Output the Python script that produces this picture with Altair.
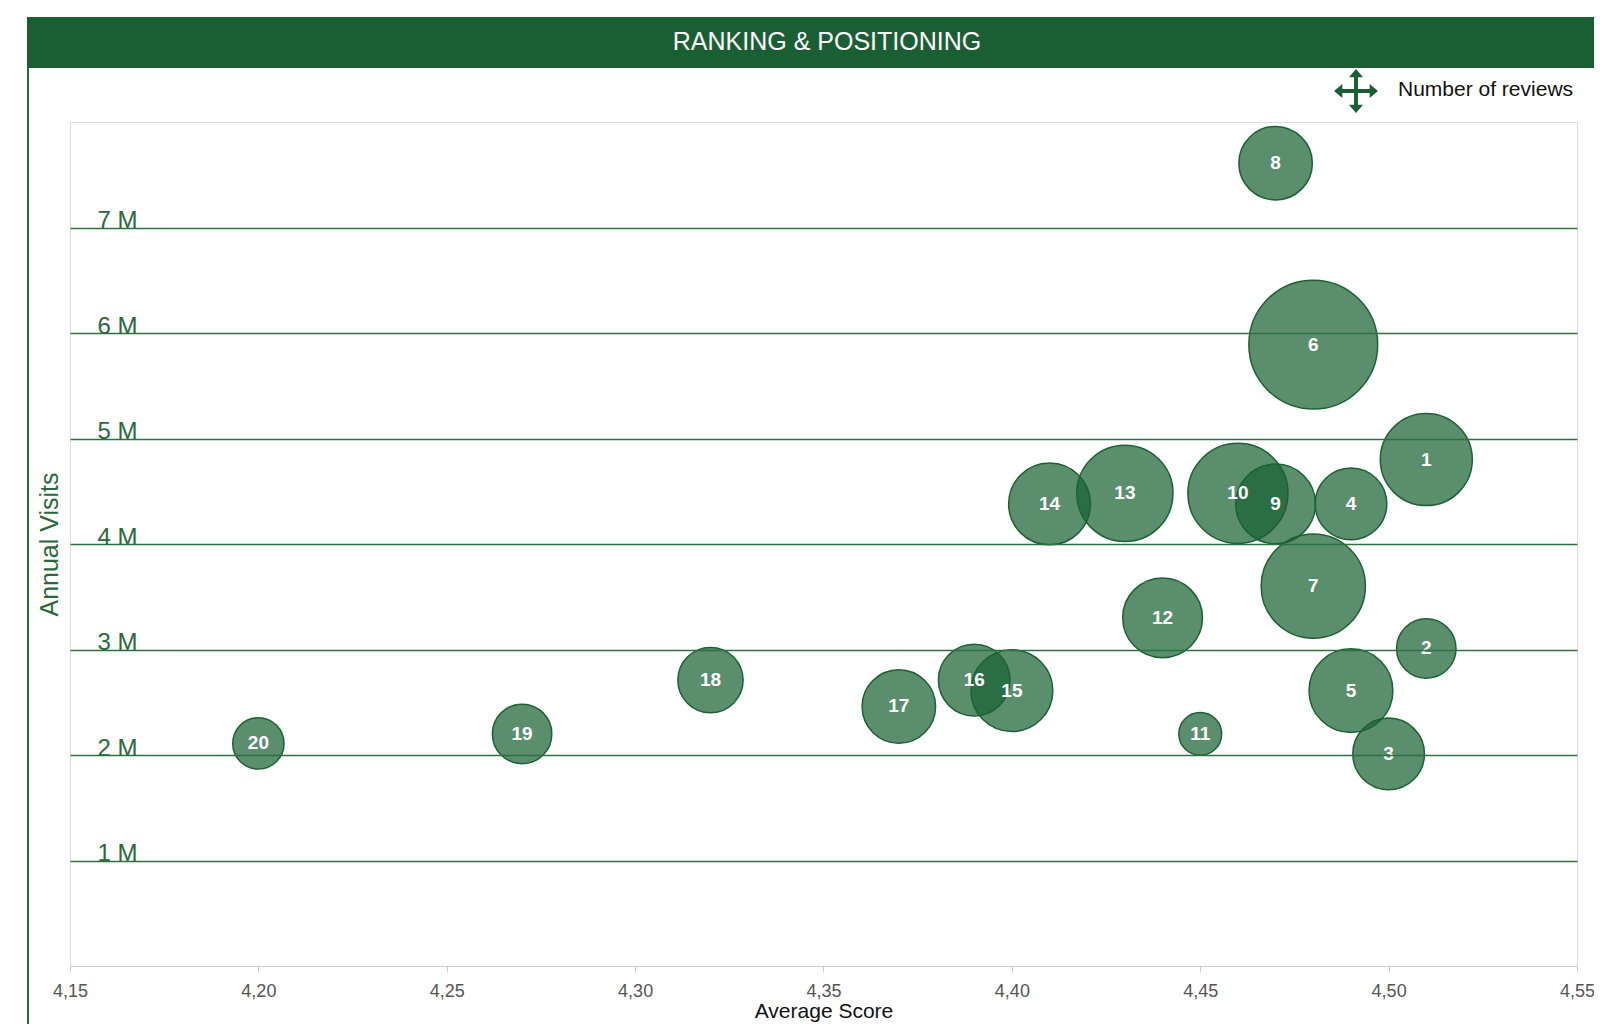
import altair as alt
import pandas as pd

# ---- data ----
ids = [1, 2, 3, 4, 5, 6, 7, 8, 9, 10, 11, 12, 13, 14, 15, 16, 17, 18, 19, 20]
scores = [4.51, 4.51, 4.50, 4.49, 4.49, 4.48, 4.48, 4.47, 4.47, 4.46,
          4.45, 4.44, 4.43, 4.41, 4.40, 4.39, 4.37, 4.32, 4.27, 4.20]
visits = [4.80e6, 3.01e6, 2.01e6, 4.38e6, 2.61e6, 5.89e6, 3.60e6, 7.61e6, 4.38e6, 4.48e6,
          2.20e6, 3.30e6, 4.48e6, 4.38e6, 2.61e6, 2.71e6, 2.46e6, 2.71e6, 2.20e6, 2.11e6]
reviews = [25400, 10600, 15400, 15400, 21100, 49800, 32600, 16200, 19100, 30100,
           5500, 19100, 27800, 20100, 20100, 15400, 16200, 12800, 10600, 7900]
y_ticks = [1e6, 2e6, 3e6, 4e6, 5e6, 6e6, 7e6]
x_ticks = [4.15, 4.20, 4.25, 4.30, 4.35, 4.40, 4.45, 4.50, 4.55]
title_text = "RANKING & POSITIONING"
legend_text = "Number of reviews"

df = pd.DataFrame({"id": ids, "score": scores, "visits": visits, "reviews": reviews})
one = pd.DataFrame({"k": [0]})

GREEN = "#1a5f33"
FONT = "Liberation Sans"

x_enc = alt.X("score:Q",
              scale=alt.Scale(domain=[4.15, 4.55], nice=False, zero=False),
              axis=alt.Axis(values=x_ticks, title="Average Score",
                            labelExpr="replace(format(datum.value, '.2f'), '.', ',')",
                            grid=False, domainColor="#cccccc", tickColor="#cccccc",
                            tickSize=6, labelPadding=10, labelFontSize=18,
                            labelFlush=False,
                            labelColor="#555555", labelFont=FONT,
                            titleFont=FONT, titleFontSize=21, titleFontWeight="normal",
                            titleColor="#111111", titlePadding=0))
y_enc = alt.Y("visits:Q",
              scale=alt.Scale(domain=[0, 8e6], nice=False),
              axis=alt.Axis(values=y_ticks, title="Annual Visits",
                            labelExpr="format(datum.value / 1000000, 'd') + ' M'",
                            grid=True, gridColor="#2d7042", gridWidth=1.5,
                            domain=False, ticks=False, tickSize=0,
                            labelAlign="left", labelBaseline="alphabetic",
                            labelPadding=-27, labelFontSize=24, labelColor="#2a6a3a",
                            labelFont=FONT,
                            titleFont=FONT, titleFontSize=25, titleFontWeight="normal",
                            titleColor="#2a6a3a", titleX=-21, titleY=422,
                            titleAngle=270, titleAlign="center", titleBaseline="middle",
                            zindex=1))

bubbles = alt.Chart(df).mark_circle(
    fill="#1b6334", fillOpacity=0.72, stroke="#1d6135", strokeWidth=1.5, opacity=1
).encode(
    x=x_enc, y=y_enc,
    size=alt.Size("reviews:Q", scale=alt.Scale(domain=[0, 60000], range=[0, 20000]), legend=None),
)

labels = alt.Chart(df).mark_text(
    color="white", fontWeight="bold", fontSize=19, font=FONT, baseline="middle", align="center"
).encode(x="score:Q", y="visits:Q", text="id:N")

bar = alt.Chart(one).mark_rect(color=GREEN).encode(
    x=alt.value(-43), x2=alt.value(1540), y=alt.value(-105), y2=alt.value(-54))
bar_text = alt.Chart(one).mark_text(
    color="white", fontSize=25, font=FONT, align="center", baseline="middle"
).encode(x=alt.value(757), y=alt.value(-80), text=alt.value(title_text))
left_line = alt.Chart(one).mark_rule(color="#2a6a3a", strokeWidth=2).encode(
    x=alt.value(-42), y=alt.value(-54), y2=alt.value(920))

arrow_path = ("M0,-1 L0.32,-0.62 L0.09,-0.62 L0.09,-0.09 L0.62,-0.09 L0.62,-0.32 L1,0 "
              "L0.62,0.32 L0.62,0.09 L0.09,0.09 L0.09,0.62 L0.32,0.62 L0,1 L-0.32,0.62 "
              "L-0.09,0.62 L-0.09,0.09 L-0.62,0.09 L-0.62,0.32 L-1,0 L-0.62,-0.32 "
              "L-0.62,-0.09 L-0.09,-0.09 L-0.09,-0.62 L-0.32,-0.62 Z")
icon = alt.Chart(one).mark_point(
    shape=arrow_path, filled=True, color=GREEN, opacity=1, size=1936
).encode(x=alt.value(1286), y=alt.value(-31))
legend_lbl = alt.Chart(one).mark_text(
    color="#111111", fontSize=21, font=FONT, align="left", baseline="middle"
).encode(x=alt.value(1328), y=alt.value(-32), text=alt.value(legend_text))

chart = alt.layer(bubbles, labels, bar, bar_text, left_line, icon, legend_lbl).properties(
    width=1507, height=844,
    autosize=alt.AutoSizeParams(type="none"),
    padding={"left": 62, "top": 114, "right": 17, "bottom": 58},
).configure_view(stroke="#dddddd", strokeWidth=1)

chart.save("out.html", embed_options={"renderer": "svg", "actions": False})
